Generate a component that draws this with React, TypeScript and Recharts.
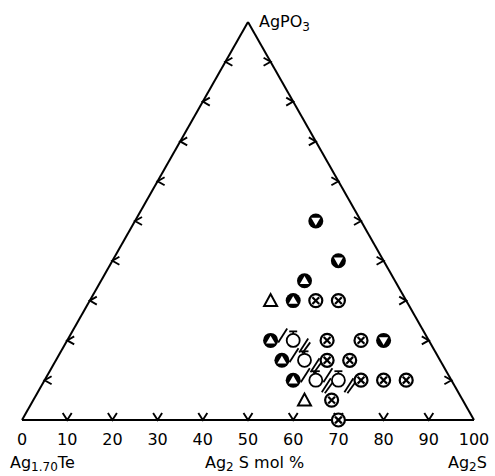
import React from 'react';
import { ScatterChart, Scatter, XAxis, YAxis, ReferenceLine } from 'recharts';

// Bottom axis tick labels (Ag2S mol %)
const bottomTickValues = [0, 10, 20, 30, 40, 50, 60, 70, 80, 90, 100];
// Edge tick marks (mol %)
const edgeTickSteps = [10, 20, 30, 40, 50, 60, 70, 80, 90];

// Points: [AgPO3 mol %, Ag2S mol %]
const boldDownTriangle: number[][] = [[50, 40], [40, 50], [20, 70]];
const boldUpTriangle: number[][] = [[35, 45], [30, 45], [20, 45], [15, 50], [10, 55]];
const openTriangle: number[][] = [[30, 40], [5, 60]];
const crossedCircle: number[][] = [
  [30, 50], [30, 55], [20, 57.5], [20, 65], [15, 60], [15, 65],
  [10, 70], [10, 75], [10, 80], [5, 66], [0, 70],
];
const barredCircle: number[][] = [[20, 50], [15, 55], [10, 60], [10, 65]];

const toXY = (p: number[]) => ({ x: (p[1] + p[0] / 2) / 100, y: p[0] / 100 });

const leftTicks = edgeTickSteps.map((a) => toXY([a, 0]));
const rightTicks = edgeTickSteps.map((a) => toXY([a, 100 - a]));
const bottomTicks = edgeTickSteps.map((b) => toXY([0, b]));

const FONT = 'DejaVu Sans';

const CrossCircleShape = (props: any) => {
  const { cx, cy } = props;
  const d = 3.4;
  return (
    <g stroke="#000" strokeWidth={2.2} fill="#fff">
      <circle cx={cx} cy={cy} r={6.5} />
      <line x1={cx - d} y1={cy - d} x2={cx + d} y2={cy + d} />
      <line x1={cx - d} y1={cy + d} x2={cx + d} y2={cy - d} />
    </g>
  );
};

const BoldDownShape = (props: any) => {
  const { cx, cy } = props;
  return (
    <g>
      <circle cx={cx} cy={cy} r={7.5} fill="#000" />
      <polygon points={`${cx - 4.6},${cy - 3.2} ${cx + 4.6},${cy - 3.2} ${cx},${cy + 4.6}`} fill="#fff" />
    </g>
  );
};

const BoldUpShape = (props: any) => {
  const { cx, cy } = props;
  return (
    <g>
      <circle cx={cx} cy={cy} r={7.5} fill="#000" />
      <polygon points={`${cx - 4.6},${cy + 3.2} ${cx + 4.6},${cy + 3.2} ${cx},${cy - 4.6}`} fill="#fff" />
    </g>
  );
};

const OpenTriShape = (props: any) => {
  const { cx, cy } = props;
  return (
    <polygon
      points={`${cx - 6.5},${cy + 5.5} ${cx + 6.5},${cy + 5.5} ${cx},${cy - 6.5}`}
      fill="#fff"
      stroke="#000"
      strokeWidth={2}
      strokeLinejoin="miter"
    />
  );
};

const BarredShape = (props: any) => {
  const { cx, cy } = props;
  return (
    <g stroke="#000" strokeWidth={1.8} fill="#fff">
      <circle cx={cx} cy={cy} r={6.5} />
      <line x1={cx - 4} y1={cy - 9} x2={cx + 4} y2={cy - 9} />
      <line x1={cx} y1={cy - 9} x2={cx} y2={cy - 6.5} />
      <line x1={cx - 15} y1={cy + 2} x2={cx - 6} y2={cy - 12} />
      <line x1={cx + 6} y1={cy + 12} x2={cx + 15} y2={cy - 2} />
      <line x1={cx + 9} y1={cy + 13} x2={cx + 17} y2={cy + 2} />
    </g>
  );
};

const LeftTickShape = (props: any) => {
  const { cx, cy } = props;
  return (
    <polyline points={`${cx + 7},${cy - 4} ${cx},${cy} ${cx + 7},${cy + 4}`} fill="none" stroke="#000" strokeWidth={1.9} />
  );
};
const RightTickShape = (props: any) => {
  const { cx, cy } = props;
  return (
    <polyline points={`${cx - 7},${cy - 4} ${cx},${cy} ${cx - 7},${cy + 4}`} fill="none" stroke="#000" strokeWidth={1.9} />
  );
};
const BottomTickShape = (props: any) => {
  const { cx, cy } = props;
  return (
    <polyline points={`${cx - 4.5},${cy - 7} ${cx},${cy} ${cx + 4.5},${cy - 7}`} fill="none" stroke="#000" strokeWidth={1.9} />
  );
};

export default function App() {
  return (
    <div style={{ position: 'absolute', left: 0, top: 0, width: 495, height: 476, background: '#fff' }}>
      <ScatterChart
        width={495}
        height={476}
        margin={{ top: 22, right: 21, left: 22, bottom: 26 }}
      >
        <XAxis
          type="number"
          dataKey="x"
          domain={[0, 1]}
          ticks={bottomTickValues.map((v) => v / 100)}
          tickFormatter={(v: number) => String(Math.round(v * 100))}
          axisLine={false}
          tickLine={false}
          tickMargin={8}
          height={30}
          interval={0}
          tick={{ fill: '#000', fontSize: 16, fontFamily: FONT }}
        />
        <YAxis type="number" dataKey="y" domain={[0, 1]} hide width={0} />
        <ReferenceLine segment={[{ x: 0, y: 0 }, { x: 1, y: 0 }]} stroke="#000" strokeWidth={2} ifOverflow="visible" />
        <ReferenceLine segment={[{ x: 0, y: 0 }, { x: 0.5, y: 1 }]} stroke="#000" strokeWidth={2} ifOverflow="visible" />
        <ReferenceLine segment={[{ x: 1, y: 0 }, { x: 0.5, y: 1 }]} stroke="#000" strokeWidth={2} ifOverflow="visible" />
        <Scatter data={leftTicks} shape={LeftTickShape} isAnimationActive={false} />
        <Scatter data={rightTicks} shape={RightTickShape} isAnimationActive={false} />
        <Scatter data={bottomTicks} shape={BottomTickShape} isAnimationActive={false} />
        <Scatter data={openTriangle.map(toXY)} shape={OpenTriShape} isAnimationActive={false} />
        <Scatter data={barredCircle.map(toXY)} shape={BarredShape} isAnimationActive={false} />
        <Scatter data={crossedCircle.map(toXY)} shape={CrossCircleShape} isAnimationActive={false} />
        <Scatter data={boldUpTriangle.map(toXY)} shape={BoldUpShape} isAnimationActive={false} />
        <Scatter data={boldDownTriangle.map(toXY)} shape={BoldDownShape} isAnimationActive={false} />
        <text x={259} y={27} fontFamily={FONT} fontSize={16} fill="#000">
          AgPO<tspan fontSize={12} dy={4}>3</tspan>
        </text>
        <text x={10} y={468} fontFamily={FONT} fontSize={16} fill="#000">
          Ag<tspan fontSize={12} dy={3}>1.70</tspan><tspan dy={-3}>Te</tspan>
        </text>
        <text x={205} y={468} fontFamily={FONT} fontSize={16} fill="#000">
          Ag<tspan fontSize={12} dy={3}>2</tspan><tspan dy={-3}> S mol %</tspan>
        </text>
        <text x={448} y={468} fontFamily={FONT} fontSize={16} fill="#000">
          Ag<tspan fontSize={12} dy={3}>2</tspan><tspan dy={-3}>S</tspan>
        </text>
      </ScatterChart>
    </div>
  );
}
